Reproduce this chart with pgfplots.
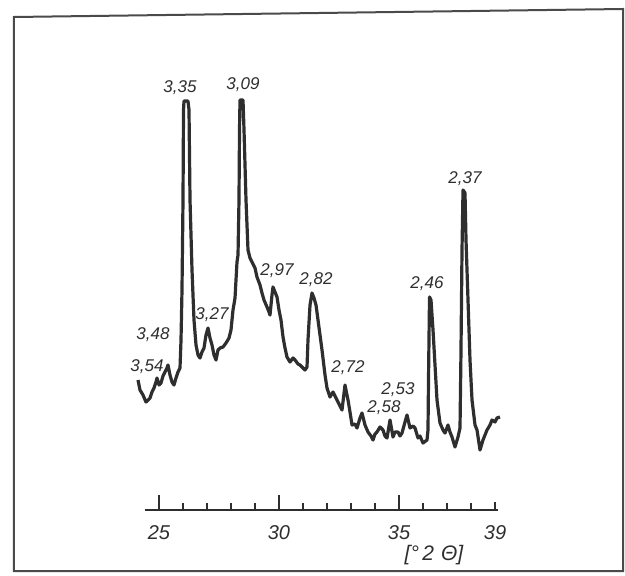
\documentclass[border=0pt]{standalone}
\usepackage{fontspec}
\setmainfont{Liberation Sans}
\usepackage{pgfplots}
\pgfplotsset{compat=1.18}
\definecolor{ink}{HTML}{2E2E2E}
\definecolor{frame}{HTML}{4A4A4A}
\begin{document}
\begin{tikzpicture}
\begin{axis}[at={(0,0)}, anchor=south west, scale only axis,
  width=312.5pt, height=287.5pt,
  xmin=18.375, xmax=44.4167, ymin=0, ymax=575,
  axis lines=none, ticks=none, clip=false]
\draw[frame, line width=1pt] (axis cs:18.958,4) -- (axis cs:18.958,558) -- (axis cs:44.333,566) -- (axis cs:44.333,4) -- cycle;
\addplot[ink, line width=1.6pt, line join=round, mark=none] coordinates {
(24.125,195)(24.208,185)(24.333,180)(24.458,173)(24.542,175)(24.625,177)(24.708,183)
(24.792,187)(24.875,193)(24.917,197)(25.0,190)(25.083,192)(25.167,199)(25.25,203)
(25.333,207)(25.375,210)(25.458,200)(25.542,193)(25.625,190)(25.708,197)(25.792,203)
(25.875,207)(25.917,235)(25.958,285)(26.0,375)(26.021,465)(26.042,474)(26.208,474)
(26.25,465)(26.292,375)(26.375,305)(26.458,255)(26.542,230)(26.625,220)(26.708,217)
(26.792,223)(26.875,227)(26.958,240)(27.042,247)(27.125,237)(27.208,230)(27.292,220)
(27.375,215)(27.458,225)(27.542,227)(27.667,228)(27.792,232)(27.917,237)(28.0,245)
(28.083,265)(28.167,277)(28.208,295)(28.25,313)(28.292,320)(28.333,375)(28.354,445)
(28.375,475)(28.5,475)(28.542,445)(28.625,375)(28.708,325)(28.792,317)(28.875,313)
(29.0,307)(29.083,298)(29.208,290)(29.292,282)(29.375,275)(29.5,268)(29.583,263)
(29.625,260)(29.708,280)(29.75,288)(29.833,283)(29.917,278)(30.0,265)(30.083,255)
(30.167,238)(30.25,227)(30.333,218)(30.458,213)(30.583,217)(30.667,215)(30.792,211)
(30.875,210)(31.0,207)(31.083,205)(31.167,208)(31.208,235)(31.292,270)(31.375,282)
(31.458,277)(31.542,270)(31.625,255)(31.792,225)(31.917,200)(32.0,187)(32.125,178)
(32.25,183)(32.375,177)(32.458,173)(32.625,165)(32.75,190)(32.875,175)(32.958,163)
(33.042,150)(33.167,151)(33.25,147)(33.375,157)(33.458,162)(33.583,150)(33.708,143)
(33.833,139)(33.917,135)(34.0,141)(34.083,143)(34.208,148)(34.333,145)(34.417,139)
(34.5,137)(34.625,155)(34.75,138)(34.833,143)(34.958,143)(35.042,139)(35.125,142)
(35.25,153)(35.333,160)(35.458,147)(35.583,149)(35.667,147)(35.792,137)(35.875,139)
(36.0,132)(36.167,135)(36.208,145)(36.229,195)(36.271,278)(36.333,275)(36.417,245)
(36.5,210)(36.583,175)(36.708,152)(36.833,145)(36.917,142)(37.042,150)(37.125,143)
(37.208,138)(37.333,128)(37.458,138)(37.542,147)(37.583,225)(37.625,325)(37.667,385)
(37.75,382)(37.792,335)(37.875,275)(37.958,215)(38.042,175)(38.167,150)(38.25,145)
(38.375,125)(38.5,135)(38.583,140)(38.667,145)(38.792,150)(38.875,155)(39.0,153)
(39.083,157)(39.208,158)
};
\begin{scope}[every node/.style={text=ink, font=\itshape\fontsize{8.5}{10}\selectfont, inner sep=0pt}]
\node at (axis cs:25.875,487) {3,35};
\node at (axis cs:28.5,490) {3,09};
\node at (axis cs:29.917,304) {2,97};
\node at (axis cs:31.542,295) {2,82};
\node at (axis cs:27.208,260) {3,27};
\node at (axis cs:24.75,240) {3,48};
\node at (axis cs:24.5,208) {3,54};
\node at (axis cs:32.875,207) {2,72};
\node at (axis cs:34.958,185) {2,53};
\node at (axis cs:34.375,167) {2,58};
\node at (axis cs:36.167,291) {2,46};
\node at (axis cs:37.75,396) {2,37};
\end{scope}
\node[text=ink, font=\itshape\fontsize{10.5}{12}\selectfont, inner sep=0pt] at (axis cs:36.458,20) {[°\,2\,\,Θ]};
\end{axis}
\begin{axis}[at={(72.5pt,32.5pt)}, anchor=south west, scale only axis,
  width=176.5pt, height=20pt,
  xmin=24.417, xmax=39.125, ymin=0, ymax=1,
  axis x line*=bottom, axis y line=none,
  x axis line style={-, line width=0.9pt, color=ink},
  xtick={25,30,35}, minor xtick={26,27,28,29,31,32,33,34,36,37,38},
  extra x ticks={39}, extra x tick style={major tick length=4pt},
  tick align=inside, major tick length=7.5pt, minor tick length=3.5pt,
  every tick/.style={line width=0.9pt, color=ink},
  xticklabel style={font=\itshape, text=ink, yshift=-4pt},
  /pgf/number format/assume math mode=true]
\addplot[draw=none] coordinates {(25,0)};
\end{axis}
\pgfresetboundingbox
\path (0,0) rectangle (312.5pt,287.5pt);
\end{tikzpicture}
\end{document}
